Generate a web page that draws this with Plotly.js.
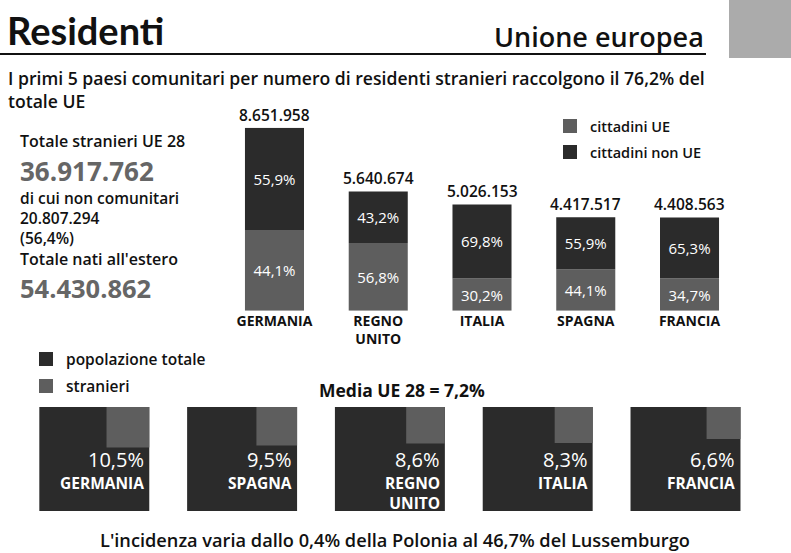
<!DOCTYPE html>
<html>
<head>
<meta charset="utf-8">
<script src="https://cdn.plot.ly/plotly-3.0.1.min.js"></script>
<style>
html,body{margin:0;padding:0;background:#fff;}
#chart{width:791px;height:553px;}
</style>
</head>
<body>
<div id="chart"></div>
<script>
// ---------- DATA ----------
const categories = ['GERMANIA', 'REGNO<br>UNITO', 'ITALIA', 'SPAGNA', 'FRANCIA'];
const totals = [8651958, 5640674, 5026153, 4417517, 4408563];
const pctUE = [44.1, 56.8, 30.2, 44.1, 34.7];
const pctNonUE = [55.9, 43.2, 69.8, 55.9, 65.3];

const incCountries = ['GERMANIA', 'SPAGNA', 'REGNO<br>UNITO', 'ITALIA', 'FRANCIA'];
const incidence = [10.5, 9.5, 8.6, 8.3, 6.6];
const populationShare = [100, 100, 100, 100, 100];

const totStranieri = 36917762;
const nonComunitari = 20807294;
const pctNonComunitari = 56.4;
const natiEstero = 54430862;
const quotaTop5 = 76.2;
const mediaUE = 7.2;
const minInc = 0.4, maxInc = 46.7;

// ---------- STYLE ----------
const W = 791, H = 553;
const FONT = '"Open Sans", Lato, sans-serif';
const FONT_L = 'Lato, "Open Sans", sans-serif';
const DARK = '#2b2b2b';
const GRAY = '#5e5e5e';
const INK = '#111111';
const NUMGRAY = '#666666';
const px = x => x / W;
const py = y => 1 - y / H;

function fmtNum(n) { return String(Math.round(n)).replace(/\B(?=(\d{3})+(?!\d))/g, '.'); }
function fmtPct(p) { return p.toFixed(1).replace('.', ',') + '%'; }

const BAR_W = 0.569;
const SQ_W = 0.744;
const sqFrac = incidence.map(p => 1.2 * Math.sqrt(p / 100));

const ueVals = totals.map((t, i) => t * pctUE[i] / 100);
const nonUeVals = totals.map((t, i) => t * pctNonUE[i] / 100);

const barText = { color: '#ffffff', size: 15, family: FONT, weight: 500 };
const traces = [
  {
    type: 'bar', name: 'cittadini UE', x: categories, y: ueVals, base: categories.map(() => 0),
    width: BAR_W, marker: { color: GRAY }, text: pctUE.map(fmtPct), textposition: 'inside',
    insidetextanchor: 'middle', constraintext: 'none', textangle: 0,
    textfont: barText, hoverinfo: 'skip', showlegend: false,
    xaxis: 'x', yaxis: 'y'
  },
  {
    type: 'bar', name: 'cittadini non UE', x: categories, y: nonUeVals, base: ueVals,
    width: BAR_W, marker: { color: DARK }, text: pctNonUE.map(fmtPct), textposition: 'inside',
    insidetextanchor: 'middle', constraintext: 'none', textangle: 0,
    textfont: barText, hoverinfo: 'skip', showlegend: false,
    xaxis: 'x', yaxis: 'y'
  },
  {
    type: 'bar', name: 'popolazione totale', x: incCountries.map((c, i) => i), y: populationShare,
    base: populationShare.map(() => 0), width: SQ_W, marker: { color: DARK },
    hoverinfo: 'skip', showlegend: false, xaxis: 'x2', yaxis: 'y2'
  },
  {
    type: 'bar', name: 'stranieri', x: incCountries.map((c, i) => i),
    y: sqFrac.map((f, i) => populationShare[i] * f),
    base: sqFrac.map((f, i) => populationShare[i] * (1 - f)),
    width: sqFrac.map(f => SQ_W * f),
    offset: sqFrac.map(f => SQ_W / 2 - SQ_W * f),
    marker: { color: GRAY }, hoverinfo: 'skip', showlegend: false, xaxis: 'x2', yaxis: 'y2'
  }
];

const ann = [];
function txt(x, y, text, font, opts) {
  ann.push(Object.assign({
    xref: 'paper', yref: 'paper', x: px(x), y: py(y), text: text, showarrow: false,
    xanchor: 'left', yanchor: 'middle', align: 'left', font: Object.assign({ family: FONT, color: INK }, font)
  }, opts || {}));
}

// header
txt(5, 30, '<b>Residenti</b>', { family: FONT_L, size: 38 });
txt(706, 36, 'Unione europea', { size: 27, weight: 600 }, { xanchor: 'right' });
txt(6, 64, 'I primi 5 paesi comunitari per numero di residenti stranieri raccolgono il ' + fmtPct(quotaTop5) + ' del' +
  '<br>totale UE', { size: 17.6, weight: 600 }, { yanchor: 'top' });

// left block
txt(18, 141, 'Totale stranieri UE 28', { size: 16, weight: 600 });
txt(18, 171, fmtNum(totStranieri), { size: 26, weight: 700, color: NUMGRAY });
txt(18, 185, 'di cui non comunitari<br>' + fmtNum(nonComunitari) + '<br>(' + fmtPct(pctNonComunitari) + ')',
  { size: 15.5, weight: 600 }, { yanchor: 'top' });
txt(18, 259, "Totale nati all'estero", { size: 16, weight: 600 });
txt(18, 288, fmtNum(natiEstero), { size: 25.5, weight: 700, color: NUMGRAY });

// totals above bars
totals.forEach((t, i) => {
  ann.push({
    xref: 'x', yref: 'y', x: categories[i], y: t, text: fmtNum(t), showarrow: false,
    xanchor: 'center', yanchor: 'bottom', yshift: 0,
    font: { family: FONT, size: 15.5, color: INK, weight: 600 }
  });
});

// top legend
txt(588, 126, 'cittadini UE', { size: 14.5, weight: 600 });
txt(588, 152, 'cittadini non UE', { size: 14.5, weight: 600 });
// bottom legend
txt(64, 359, 'popolazione totale', { size: 15.5, weight: 600 });
txt(64, 386, 'stranieri', { size: 15.5, weight: 600 });

txt(402, 390, 'Media UE 28 = ' + fmtPct(mediaUE), { size: 17.5, weight: 700 }, { xanchor: 'center' });

// square labels
incCountries.forEach((c, i) => {
  ann.push({
    xref: 'x2', yref: 'y2', x: i + SQ_W / 2, y: 50, text: fmtPct(incidence[i]), showarrow: false,
    xanchor: 'right', yanchor: 'middle', xshift: -3,
    font: { family: FONT, size: 20, color: '#ffffff', weight: 500 }
  });
  ann.push({
    xref: 'x2', yref: 'y2', x: i + SQ_W / 2, y: 39.5, text: c, showarrow: false,
    xanchor: 'right', yanchor: 'top', xshift: -3, align: 'right',
    font: { family: FONT, size: 15.5, color: '#ffffff', weight: 700 }
  });
});

txt(395, 540, "L'incidenza varia dallo " + fmtPct(minInc) + ' della Polonia al ' + fmtPct(maxInc) + ' del Lussemburgo',
  { size: 18.2, weight: 600 }, { xanchor: 'center' });

const shapes = [
  { type: 'line', xref: 'paper', yref: 'paper', x0: 0, x1: px(706), y0: py(54), y1: py(54), line: { color: '#111', width: 2 } },
  { type: 'rect', xref: 'paper', yref: 'paper', x0: px(729), x1: 1, y0: py(58), y1: 1, fillcolor: '#ababab', line: { width: 0 } },
  { type: 'rect', xref: 'paper', yref: 'paper', x0: px(563), x1: px(577), y0: py(133), y1: py(119), fillcolor: GRAY, line: { width: 0 } },
  { type: 'rect', xref: 'paper', yref: 'paper', x0: px(563), x1: px(577), y0: py(159), y1: py(145), fillcolor: DARK, line: { width: 0 } },
  { type: 'rect', xref: 'paper', yref: 'paper', x0: px(39), x1: px(53), y0: py(366), y1: py(352), fillcolor: DARK, line: { width: 0 } },
  { type: 'rect', xref: 'paper', yref: 'paper', x0: px(39), x1: px(53), y0: py(393), y1: py(379), fillcolor: GRAY, line: { width: 0 } }
];

const layout = {
  width: W, height: H, margin: { l: 0, r: 0, t: 0, b: 0 },
  paper_bgcolor: '#ffffff', plot_bgcolor: 'rgba(0,0,0,0)',
  barmode: 'overlay', showlegend: false,
  font: { family: FONT, color: INK },
  xaxis: {
    domain: [px(222.6), px(741.4)], range: [-0.5, 4.5], type: 'category', anchor: 'y',
    showgrid: false, zeroline: false, showline: false, ticks: '',
    tickfont: { family: FONT, size: 14, color: INK, weight: 700 }, fixedrange: true
  },
  yaxis: {
    domain: [py(310.7), py(127.7)], range: [0, totals[0]], visible: false, fixedrange: true, anchor: 'x'
  },
  xaxis2: { domain: [px(20.4), px(759.4)], range: [-0.5, 4.5], visible: false, anchor: 'y2', fixedrange: true },
  yaxis2: { domain: [py(511), py(407)], range: [0, 100], visible: false, anchor: 'x2', fixedrange: true },
  annotations: ann,
  shapes: shapes
};

Plotly.newPlot('chart', traces, layout, { staticPlot: true, displayModeBar: false });
</script>
</body>
</html>
